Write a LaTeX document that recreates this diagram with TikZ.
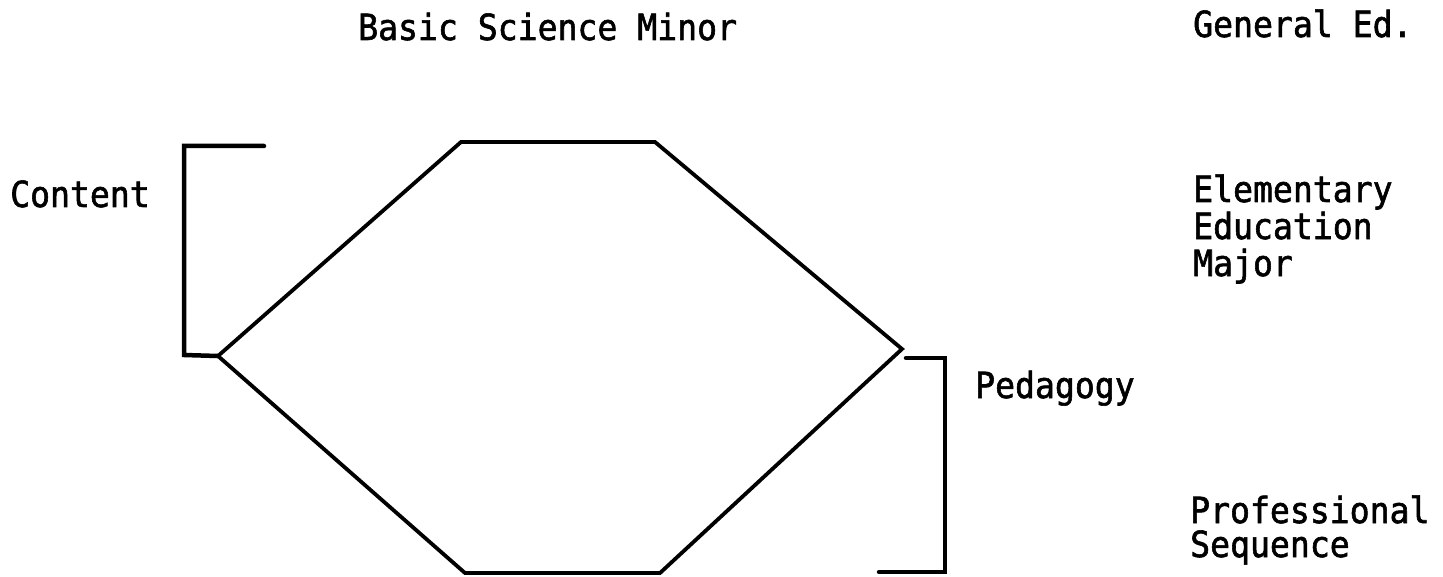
\documentclass[tikz,border=0pt]{standalone}
\usepackage{fontspec}
\newfontfamily\typewr[FakeStretch=0.92,FakeBold=1.6]{DejaVu Sans Mono}
\begin{document}
\begin{tikzpicture}[x=1bp,y=-1bp,
  lbl/.style={anchor=base west,inner sep=0pt,font=\typewr\fontsize{36bp}{40bp}\selectfont},
  hexline/.style={line width=3.8bp,line join=miter,line cap=round},
  brack/.style={line width=4.5bp,line join=miter,line cap=round}]
\useasboundingbox (0,0) rectangle (1443,577);
% hexagon vertices
\coordinate (TL) at (461,142);
\coordinate (TR) at (655,142);
\coordinate (R) at (902,349);
\coordinate (BR) at (660,573);
\coordinate (BL) at (465,573);
\coordinate (L) at (218,356);
\draw[hexline] (TL) -- (TR) -- (R) -- (BR) -- (BL) -- (L) -- cycle;
% left bracket (Content)
\coordinate (cTop) at (264,146);
\coordinate (cTopC) at (184,146);
\coordinate (cBotC) at (184,355);
\draw[brack] (cTop) -- (cTopC) -- (cBotC) -- (L);
% right bracket (Pedagogy)
\coordinate (pTop) at (906,358);
\coordinate (pTopC) at (945,358);
\coordinate (pBotC) at (945,572);
\coordinate (pBot) at (879,572);
\draw[brack] (pTop) -- (pTopC) -- (pBotC) -- (pBot);
% labels
\node[lbl] (title) at (358,40) {Basic Science Minor};
\node[lbl] (gened) at (1193,37) {General Ed.};
\node[lbl] (content) at (10,207) {Content};
\node[lbl] (elem1) at (1193,202) {Elementary};
\node[lbl] (elem2) at (1193,239) {Education};
\node[lbl] (elem3) at (1193,276) {Major};
\node[lbl] (peda) at (975,398) {Pedagogy};
\node[lbl] (prof1) at (1190,523) {Professional};
\node[lbl] (prof2) at (1190,557) {Sequence};
\end{tikzpicture}
\end{document}
